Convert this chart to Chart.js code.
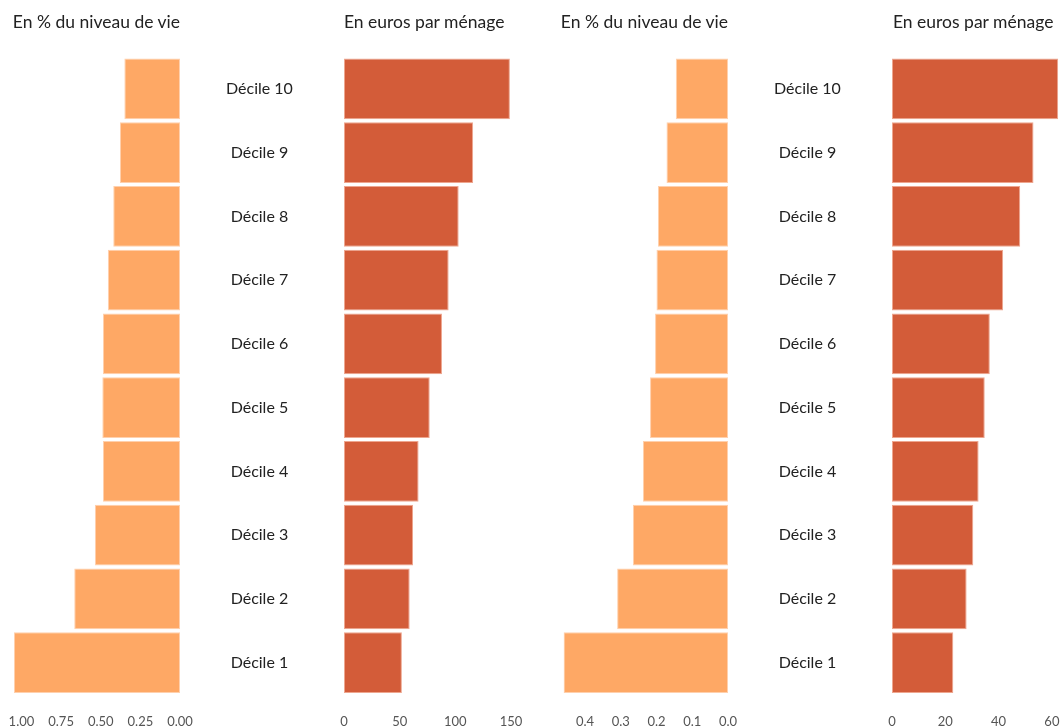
<!DOCTYPE html>
<html>
<head>
<meta charset="utf-8">
<script src="https://cdn.jsdelivr.net/npm/chart.js@4/dist/chart.umd.min.js"></script>
<style>
body { margin: 0; background: #fff; }
#wrap { position: relative; width: 1060px; height: 727px; overflow: hidden; font-family: Lato, sans-serif; }
canvas { position: absolute; left: 0; top: 0; }
.head { position: absolute; top: 11px; font-size: 17.5px; line-height: 22px; color: #222; white-space: nowrap; }
</style>
</head>
<body>
<div id="wrap">
<canvas id="c1" width="1060" height="727"></canvas>
<canvas id="c2" width="1060" height="727"></canvas>
<canvas id="c3" width="1060" height="727"></canvas>
<canvas id="c4" width="1060" height="727"></canvas>
<div class="head" style="right:880px">En % du niveau de vie</div>
<div class="head" style="left:344px">En euros par ménage</div>
<div class="head" style="right:332px">En % du niveau de vie</div>
<div class="head" style="left:893px">En euros par ménage</div>
</div>
<script>
// deciles, top to bottom
var deciles = ['Décile 10', 'Décile 9', 'Décile 8', 'Décile 7', 'Décile 6',
               'Décile 5', 'Décile 4', 'Décile 3', 'Décile 2', 'Décile 1'];

// panel 1 : en % du niveau de vie
var pctVie1 = [0.351, 0.379, 0.421, 0.455, 0.486, 0.490, 0.486, 0.537, 0.667, 1.047];
// panel 2 : en euros par ménage
var eurMenage1 = [149, 116, 103, 94, 88, 77, 67, 62, 59, 52];
// panel 3 : en % du niveau de vie
var pctVie2 = [0.146, 0.172, 0.196, 0.200, 0.204, 0.218, 0.238, 0.266, 0.310, 0.460];
// panel 4 : en euros par ménage
var eurMenage2 = [62.4, 53.1, 48.1, 41.7, 36.7, 34.8, 32.5, 30.5, 28.0, 23.0];

var ticksPct1 = [0, 0.25, 0.5, 0.75, 1];
var ticksEur1 = [0, 50, 100, 150];
var ticksPct2 = [0, 0.1, 0.2, 0.3, 0.4];
var ticksEur2 = [0, 20, 40, 60];

var light = '#fea865';
var lightEdge = '#ffd0ad';
var dark = '#d35c39';
var darkEdge = '#eea68f';

function makePanel(id, values, color, edge, tickVals, decimals, reversed, max, left, right, showLabels) {
    var labelWidth = showLabels ? 160 : 0;
    var padRight = 1060 - right - labelWidth;
    return new Chart(document.getElementById(id).getContext('2d'), {
        type: 'bar',
        data: {
            labels: deciles,
            datasets: [{
                data: values,
                backgroundColor: color,
                borderColor: edge,
                borderWidth: 1,
                borderSkipped: false,
                barPercentage: 0.953,
                categoryPercentage: 1
            }]
        },
        options: {
            indexAxis: 'y',
            responsive: false,
            animation: false,
            layout: { padding: { left: left, right: padRight, top: 57, bottom: 0 } },
            plugins: { legend: { display: false }, tooltip: { enabled: false } },
            scales: {
                x: {
                    min: 0,
                    max: max,
                    reverse: reversed,
                    grid: { display: false, drawTicks: false },
                    border: { display: false },
                    ticks: {
                        color: '#555',
                        padding: 20,
                        maxRotation: 0,
                        font: { family: 'Lato', size: 13 },
                        callback: function(v) { return Number(v).toFixed(decimals); }
                    },
                    afterBuildTicks: function(scale) {
                        scale.ticks = tickVals.map(function(v) { return { value: v }; });
                    },
                    afterFit: function(scale) {
                        scale.height = 32.5;
                        scale.paddingLeft = 0;
                        scale.paddingRight = 0;
                    }
                },
                y: {
                    display: showLabels,
                    position: 'right',
                    grid: { display: false, drawTicks: false },
                    border: { display: false },
                    ticks: {
                        color: '#222',
                        crossAlign: 'center',
                        padding: 46,
                        font: { family: 'Lato', size: 16 }
                    },
                    afterFit: function(scale) {
                        scale.width = labelWidth;
                        scale.paddingTop = 0;
                        scale.paddingBottom = 0;
                    }
                }
            }
        }
    });
}

makePanel('c1', pctVie1, light, lightEdge, ticksPct1, 2, true, Math.max.apply(null, pctVie1), 14, 180, true);
makePanel('c2', eurMenage1, dark, darkEdge, ticksEur1, 0, false, 150, 344, 511, false);
makePanel('c3', pctVie2, light, lightEdge, ticksPct2, 1, true, Math.max.apply(null, pctVie2), 563.5, 728, true);
makePanel('c4', eurMenage2, dark, darkEdge, ticksEur2, 0, false, Math.max.apply(null, eurMenage2), 892, 1058.3, false);
</script>
</body>
</html>
